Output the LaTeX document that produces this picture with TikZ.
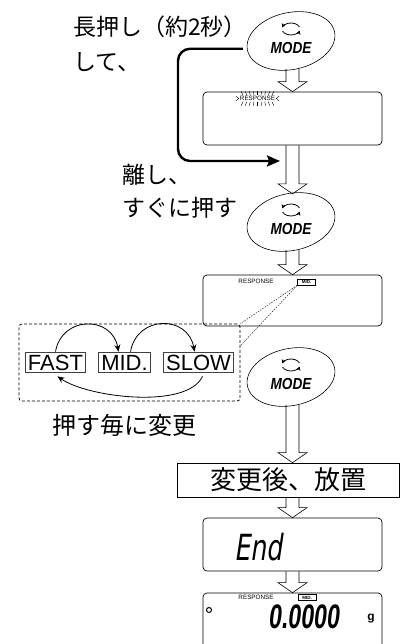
\documentclass[tikz,border=0pt]{standalone}
\usepackage{fontspec}
\setmainfont{Liberation Sans}
\newfontfamily\jpfont{Noto Sans CJK JP}
\newfontfamily\keyfont[FakeStretch=0.85]{Liberation Sans}
\newfontfamily\segfont[FakeStretch=0.7,FakeSlant=0.15]{DejaVu Sans}
\newfontfamily\numfont[FakeStretch=0.68,FakeSlant=0.12]{Liberation Sans}
\usetikzlibrary{shapes.geometric,arrows.meta,calc}

\tikzset{
  display/.style={draw, line width=0.7pt, rounded corners=4pt, minimum width=179pt, minimum height=53pt},
  modekey/.style={draw, ellipse, line width=0.6pt, minimum width=89pt, minimum height=57pt, inner sep=0pt, rotate=12},
  jp/.style={inner sep=0pt, font=\jpfont\fontsize{23}{23}\selectfont},
  speed/.style={draw=black!75, line width=0.7pt, inner xsep=2.5pt, inner ysep=2pt, text height=16pt, text depth=0pt, font=\fontsize{22}{22}\selectfont},
  lcdtag/.style={draw, line width=0.6pt, inner sep=0pt, minimum width=18pt, minimum height=6pt, font=\bfseries\fontsize{4.5}{4.5}\selectfont},
  lcdtext/.style={inner sep=0pt, font=\fontsize{6.3}{6.3}\selectfont},
  hold/.style={line width=2.4pt, rounded corners=12pt, shorten <=4pt, -{Stealth[length=13pt,width=11pt,inset=2pt]}},
  swing/.style={line width=0.8pt, -{Stealth[length=7pt,width=6pt]}},
  zoomline/.style={line width=0.4pt, dash pattern=on 1.5pt off 1.2pt},
}

% hollow down arrow between two nodes, on the column axis
\newcommand{\hollowdown}[2]{%
  \draw[line width=0.6pt] let \p3=(axis), \p1=(#1.south), \p2=(#2.north) in
    (\x3-6.5pt,\y1) -- (\x3-6.5pt,\y2+10pt) -- (\x3-14.5pt,\y2+10pt) -- (\x3,\y2)
    -- (\x3+14.5pt,\y2+10pt) -- (\x3+6.5pt,\y2+10pt) -- (\x3+6.5pt,\y1);}

% MODE key: ellipse, turn icon and label
\newcommand{\modekey}[2]{%
  \node[modekey] (#1) at (#2) {};
  \draw[line width=0.8pt, -{Stealth[length=4pt,width=4.5pt]}] ([yshift=12pt]#1.center) ++(20:9pt and 6pt)
    arc[start angle=20, end angle=165, x radius=9pt, y radius=6pt];
  \draw[line width=0.8pt, -{Stealth[length=4pt,width=4.5pt]}] ([yshift=12pt]#1.center) ++(200:9pt and 6pt)
    arc[start angle=200, end angle=345, x radius=9pt, y radius=6pt];
  \node[inner sep=0pt, font=\keyfont\bfseries\itshape\fontsize{16}{16}\selectfont] (#1txt) at ([yshift=-6.5pt]#1.center) {MODE};}

\begin{document}
\begin{tikzpicture}[x=1pt,y=-1pt]
    \useasboundingbox (0,0) rectangle (401,644);
    \coordinate (axis) at (292.5,0);

    % keys and displays
    \modekey{mode1}{291,41}
    \node[display] (disp1) at (292.5,118.5) {};
    \modekey{mode2}{291,222}
    \node[display, minimum height=51pt] (disp2) at (292.5,300.5) {};
    \modekey{mode3}{291,377}
    \node[draw, line width=0.7pt, minimum width=222.5pt, minimum height=34pt, inner sep=0pt,
          font=\jpfont\fontsize{26}{26}\selectfont] (settle) at (288.25,480) {変更後、放置};
    \node[display] (disp3) at (292.5,544.5) {};
    \node[display, minimum height=60pt] (disp4) at (292.5,623) {};

    \hollowdown{mode1}{disp1}
    \hollowdown{disp1}{mode2}
    \hollowdown{mode2}{disp2}
    \hollowdown{mode3}{settle}
    \hollowdown{settle}{disp3}
    \hollowdown{disp3}{disp4}

    % display contents
    \node[lcdtext] (resp1) at (257.5,98.5) {RESPONSE};
    \foreach \i in {-4,...,4} {
        \draw[line width=0.4pt] ($(resp1.north)+(\i*3.6,-0.8)$) -- ++(\i*0.5,-4);
        \draw[line width=0.4pt] ($(resp1.south)+(\i*3.6,0.8)$) -- ++(\i*0.5,4);
    }
    \draw[line width=0.4pt] ($(resp1.west)+(-1,0)$) -- ++(-3,-2.5) ($(resp1.west)+(-1,0)$) -- ++(-3,2.5);
    \draw[line width=0.4pt] ($(resp1.east)+(1,0)$) -- ++(3,-2.5) ($(resp1.east)+(1,0)$) -- ++(3,2.5);

    \node[lcdtext] (resp2) at (256,281.5) {RESPONSE};
    \node[lcdtag] (tag2) at (306.5,282) {MID.};

    \node[inner sep=0pt, anchor=base west, font=\segfont\fontsize{36}{36}\selectfont] (endtxt) at (234,560) {End};

    \node[lcdtext] (resp4) at (256,597.5) {RESPONSE};
    \node[lcdtag] (tag4) at (307,597.5) {MID.};
    \node[draw, circle, line width=1pt, inner sep=0pt, minimum size=5pt] (stable) at (209,610) {};
    \node[inner sep=0pt, anchor=base west, text height=23pt, text depth=0pt,
          font=\numfont\bfseries\fontsize{34}{34}\selectfont] (zero) at (268,628) {0.0000};
    \node[inner sep=0pt, font=\bfseries\fontsize{12}{12}\selectfont] (unit) at (371,619) {g};

    % speed choices
    \node[draw, line width=0.8pt, dash pattern=on 3pt off 2pt, rounded corners=3pt, minimum width=221pt, minimum height=77pt] (zoombox) at (129.5,362.5) {};
    \draw[zoomline] (tag2.south west) -- (zoombox.north east);
    \draw[zoomline] (tag2.south west) -- ([yshift=-22pt]zoombox.north east);
    \node[speed] (fast) at (55.5,362) {FAST};
    \node[speed] (mid)  at (124.5,362) {MID.};
    \node[speed] (slow) at (198.5,362) {SLOW};
    \draw[swing] (fast.north) to[out=80,in=100,looseness=1.5] ([xshift=-6pt]mid.north);
    \draw[swing] ([xshift=6pt]mid.north) to[out=80,in=100,looseness=1.5] ([xshift=-4pt]slow.north);
    \draw[swing] ([xshift=4pt,yshift=-4pt]slow.south) to[out=-115,in=-35,looseness=0.65] ([xshift=2pt,yshift=-4pt]fast.south);

    % texts
    \node[jp, anchor=west] (hold1) at (73,27) {長押し（約2秒）};
    \node[jp, anchor=west] (hold2) at (73,62) {して、};
    \node[jp, anchor=west] (rel1) at (122,175) {離し、};
    \node[jp, anchor=west] (rel2) at (122,208) {すぐに押す};
    \node[jp, anchor=west, font=\jpfont\fontsize{24}{24}\selectfont] (note) at (52,425) {押す毎に変更};

    % long press, then release
    \coordinate (release) at (280,161);
    \draw[hold] (mode1.178) -| (178,105) |- (release);
\end{tikzpicture}
\end{document}
